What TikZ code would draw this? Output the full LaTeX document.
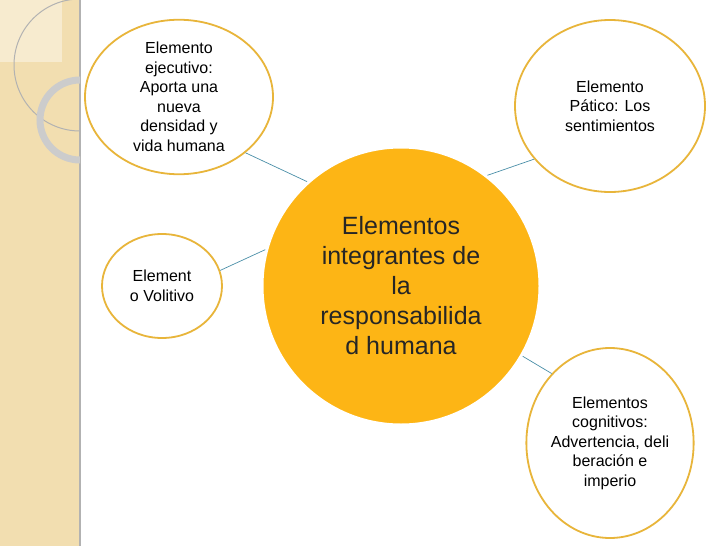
\documentclass[tikz,border=0pt]{standalone}
\usepackage{fontspec}
\setmainfont{Liberation Sans}
\usetikzlibrary{shapes.geometric}
\definecolor{gold}{HTML}{E8B53A}
\definecolor{tan}{HTML}{F2DEB0}
\definecolor{core}{HTML}{FDB515}
\definecolor{lnk}{HTML}{4A8FA8}
\begin{document}
\begin{tikzpicture}[x=1pt,y=-1pt,
  bub/.style={ellipse,draw=gold,line width=1.8pt,fill=white,inner sep=0pt,align=center,font=\fontsize{16}{19.5}\selectfont},
  conn/.style={draw=lnk,line width=0.7pt}]
\useasboundingbox (0,0) rectangle (728,546);
\fill[white] (0,0) rectangle (728,546);
\fill[tan] (0,0) rectangle (80,546);
\fill[black!30] (79,0) rectangle (81,546);
\fill[white,opacity=0.4] (0,0) rectangle (62,62);
\begin{scope}
\clip (0,0) rectangle (80,546);
\draw[black!30,line width=1pt] (80,65) circle[radius=66];
\draw[black!20,line width=7pt] (80,120) circle[radius=40];
\end{scope}
\node[bub,minimum width=188,minimum height=152] (ej) at (179,97) {Elemento\\ejecutivo:\\Aporta una\\nueva\\densidad y\\vida humana};
\node[bub,minimum width=120,minimum height=104] (vo) at (162,286) {Element\\o Volitivo};
\node[bub,minimum width=190,minimum height=172] (pa) at (610,106) {Elemento\\Pático: Los\\sentimientos};
\node[bub,minimum width=156,minimum height=190] (co) at (610,443) {Elementos\\cognitivos:\\Advertencia, deli\\beración e\\imperio};
\node[circle,draw=white,line width=3pt,fill=core,minimum size=278,inner sep=0pt,align=center,
  font=\fontsize{25}{30}\selectfont,text=black!85] (c) at (401,286) {Elementos\\integrantes de\\la\\responsabilida\\d humana};
\draw[conn] (ej.-40) -- (c.132);
\draw[conn] (vo.15) -- (c.165);
\draw[conn] (pa.-145) -- (c.52);
\draw[conn] (co.130) -- (c.-30);
\end{tikzpicture}
\end{document}
